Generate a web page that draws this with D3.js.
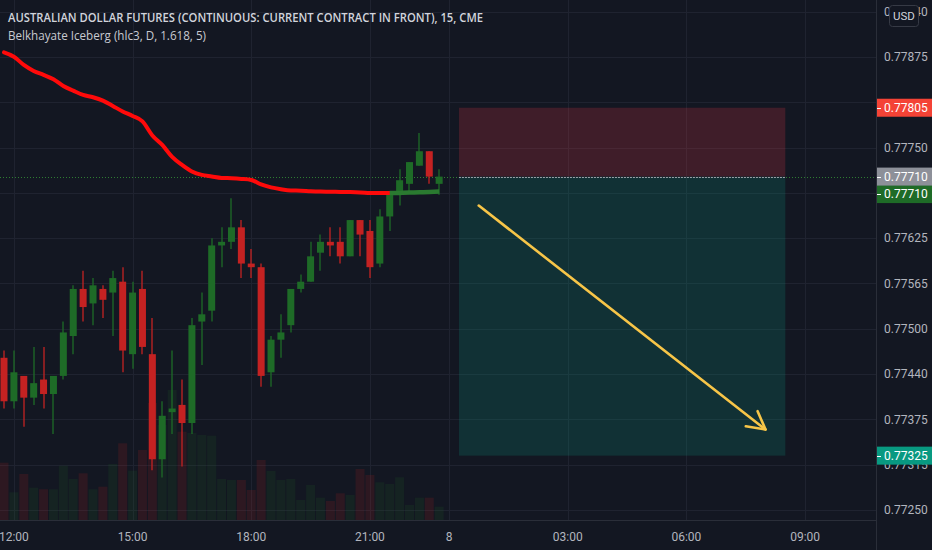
<!DOCTYPE html>
<html><head><meta charset="utf-8">
<script src="https://cdn.jsdelivr.net/npm/d3@7"></script>
<style>html,body{margin:0;padding:0;background:#131722;overflow:hidden}</style>
</head><body><svg id="c" width="932" height="550"></svg>
<script>
// ---- data ----
const opens  = [0.77460,0.77400,0.77435,0.77405,0.77430,0.77410,0.77435,0.77490,0.77555,0.77535,0.77555,0.77550,0.77565,0.77465,0.77555,0.77465,0.77320,0.77385,0.77395,0.77370,0.77510,0.77525,0.77615,0.77620,0.77640,0.77590,0.77585,0.77440,0.77485,0.77505,0.77555,0.77565,0.77605,0.77620,0.77620,0.77600,0.77650,0.77635,0.77590,0.77655,0.77685,0.77700,0.77725,0.77745,0.77700];
const highs  = [0.77470,0.77470,0.77435,0.77475,0.77475,0.77435,0.77510,0.77560,0.77580,0.77570,0.77560,0.77580,0.77585,0.77565,0.77580,0.77515,0.77400,0.77470,0.77430,0.77515,0.77550,0.77625,0.77640,0.77680,0.77650,0.77610,0.77590,0.77490,0.77520,0.77555,0.77575,0.77620,0.77630,0.77640,0.77640,0.77650,0.77650,0.77650,0.77665,0.77690,0.77720,0.77730,0.77770,0.77745,0.77720];
const lows   = [0.77390,0.77390,0.77365,0.77395,0.77390,0.77355,0.77430,0.77465,0.77510,0.77505,0.77515,0.77490,0.77440,0.77445,0.77465,0.77305,0.77295,0.77355,0.77310,0.77355,0.77450,0.77510,0.77585,0.77610,0.77570,0.77570,0.77420,0.77420,0.77460,0.77495,0.77550,0.77565,0.77580,0.77600,0.77590,0.77600,0.77600,0.77570,0.77585,0.77635,0.77670,0.77690,0.77725,0.77700,0.77685];
const closes = [0.77400,0.77440,0.77405,0.77425,0.77410,0.77435,0.77495,0.77555,0.77530,0.77560,0.77540,0.77570,0.77470,0.77550,0.77475,0.77320,0.77380,0.77390,0.77370,0.77505,0.77520,0.77615,0.77620,0.77640,0.77590,0.77585,0.77435,0.77485,0.77495,0.77555,0.77565,0.77600,0.77620,0.77615,0.77600,0.77650,0.77630,0.77585,0.77655,0.77685,0.77705,0.77730,0.77745,0.77710,0.77710];
const volumes = [573,277,460,323,307,307,543,410,467,307,333,560,767,493,700,1170,950,1300,883,870,850,843,410,400,400,300,600,490,400,410,200,350,223,190,267,250,510,450,377,360,427,150,223,223,133];
const iceberg = [0.778814,0.778754,0.778641,0.778558,0.778503,0.778444,0.778351,0.778286,0.778227,0.778195,0.778148,0.778075,0.777999,0.777937,0.777861,0.777668,0.777537,0.777371,0.777261,0.777171,0.777123,0.777102,0.777082,0.777077,0.777068,0.777054,0.776992,0.776951,0.776926,0.776909,0.776906,0.776898,0.776893,0.776891,0.776888,0.776886,0.776882,0.776875,0.776872,0.776872,0.776875,0.776879,0.776883,0.776888,0.776893];
const icebergTurn = 39;
const timeTickIndex  = [1,13,25,37,45,57,69,81];
const timeTickLabels = ["12:00","15:00","18:00","21:00","8","03:00","06:00","09:00"];
const priceTicks = [0.7725,0.773125,0.77375,0.774375,0.775,0.775625,0.77625,0.776875,0.7775,0.778125,0.77875,0.779375];
const priceTickLabels = ["0.77250","0.77315","0.77375","0.77440","0.77500","0.77565","0.77625","0.77690","0.77750","0.77815","0.77875","0.77940"];
const lastPrice = 0.77710;
const position = {entry:0.77710, stop:0.77805, target:0.77325, from:46, to:79};
const arrowPts = [[48,0.7767],[77,0.77361]];
const titleText = "AUSTRALIAN DOLLAR FUTURES (CONTINUOUS: CURRENT CONTRACT IN FRONT), 15, CME";
const subText = "Belkhayate Iceberg (hlc3, D, 1.618, 5)";

// ---- styles ----
const BG="#131722", GRID="#1f2330", AXIS="#2a2e39", TXT="#b2b5be";
const RED="#c42222", GREEN="#1e6b27";
const W=932, H=550, plotR=876, plotB=520;

const svg=d3.select("#c");
svg.append("rect").attr("width",W).attr("height",H).attr("fill",BG);

const x=d3.scaleLinear().domain([0,81]).range([4,805.1]);
const y=d3.scaleLinear().domain([0.7725,0.779375]).range([510,11.7]);
const yv=d3.scaleLinear().domain([0,1300]).range([plotB,390]);
const crisp=v=>Math.round(v)+0.5;

const plot=svg.append("g");
plot.append("defs").append("clipPath").attr("id","clip").append("rect").attr("width",plotR).attr("height",plotB);
const g=plot.append("g").attr("clip-path","url(#clip)");

// grid
g.selectAll(".hg").data(priceTicks).join("line").attr("x1",0).attr("x2",plotR)
  .attr("y1",d=>crisp(y(d))).attr("y2",d=>crisp(y(d))).attr("stroke",GRID).attr("stroke-width",1);
g.selectAll(".vg").data(timeTickIndex).join("line").attr("y1",0).attr("y2",plotB)
  .attr("x1",d=>crisp(x(d))).attr("x2",d=>crisp(x(d))).attr("stroke",GRID).attr("stroke-width",1);

const idx=d3.range(opens.length);
// volume
g.selectAll(".vol").data(idx).join("rect")
  .attr("x",i=>x(i)-4.5).attr("width",9)
  .attr("y",i=>yv(volumes[i])).attr("height",i=>plotB-yv(volumes[i]))
  .attr("fill",i=>closes[i]>=opens[i]?"#1f6b27":"#c42222").attr("fill-opacity",0.15);

// position box
const bx0=x(position.from), bx1=x(position.to);
g.append("rect").attr("x",bx0).attr("width",bx1-bx0).attr("y",y(position.stop)).attr("height",y(position.entry)-y(position.stop))
  .attr("fill","rgba(242,54,69,0.2)");
g.append("rect").attr("x",bx0).attr("width",bx1-bx0).attr("y",y(position.entry)).attr("height",y(position.target)-y(position.entry))
  .attr("fill","rgba(8,153,129,0.2)");

// last price dotted line
g.append("line").attr("x1",0).attr("x2",plotR).attr("y1",crisp(y(lastPrice))).attr("y2",crisp(y(lastPrice)))
  .attr("stroke","#2e7d32").attr("stroke-width",1).attr("stroke-dasharray","1,2");
g.append("line").attr("x1",bx0).attr("x2",bx1).attr("y1",crisp(y(position.entry))).attr("y2",crisp(y(position.entry)))
  .attr("stroke","#9aa0a8").attr("stroke-width",1).attr("stroke-dasharray","2,1");

// candles
const cg=g.append("g");
cg.selectAll(".wick").data(idx).join("line")
  .attr("x1",i=>crisp(x(i))-0.5).attr("x2",i=>crisp(x(i))-0.5)
  .attr("y1",i=>y(highs[i])).attr("y2",i=>y(lows[i]))
  .attr("stroke",i=>closes[i]>=opens[i]?GREEN:RED).attr("stroke-width",1.3);
cg.selectAll(".body").data(idx).join("rect")
  .attr("x",i=>x(i)-3.5).attr("width",7)
  .attr("y",i=>y(Math.max(opens[i],closes[i])))
  .attr("height",i=>Math.max(1,y(Math.min(opens[i],closes[i]))-y(Math.max(opens[i],closes[i]))))
  .attr("fill",i=>closes[i]>=opens[i]?GREEN:RED);

// iceberg line
const line=d3.line().x(d=>x(d[0])).y(d=>y(d[1])).curve(d3.curveMonotoneX);
const icePts=iceberg.map((v,i)=>[i,v]);
g.append("path").attr("d",line(icePts.slice(0,icebergTurn+1))).attr("fill","none")
  .attr("stroke","#ff0a0a").attr("stroke-width",4).attr("stroke-linecap","round").attr("stroke-linejoin","round");
g.append("path").attr("d",line(icePts.slice(icebergTurn))).attr("fill","none")
  .attr("stroke","#2a7a30").attr("stroke-width",4.5).attr("stroke-linecap","butt");

// arrow
const ax0=x(arrowPts[0][0]), ay0=y(arrowPts[0][1]), ax1=x(arrowPts[1][0]), ay1=y(arrowPts[1][1]);
const ang=Math.atan2(ay1-ay0,ax1-ax0);
const hl=20, ha=0.5;
const arrowCol="#f7c548";
g.append("line").attr("x1",ax0).attr("y1",ay0).attr("x2",ax1).attr("y2",ay1)
  .attr("stroke",arrowCol).attr("stroke-width",2.6).attr("stroke-linecap","round");
g.append("path").attr("d",`M${ax1-hl*Math.cos(ang-ha)},${ay1-hl*Math.sin(ang-ha)}L${ax1},${ay1}L${ax1-hl*Math.cos(ang+ha)},${ay1-hl*Math.sin(ang+ha)}`)
  .attr("fill","none").attr("stroke",arrowCol).attr("stroke-width",2.6).attr("stroke-linecap","round").attr("stroke-linejoin","round");

// axes frame
svg.append("line").attr("x1",plotR+0.5).attr("x2",plotR+0.5).attr("y1",0).attr("y2",H).attr("stroke",AXIS);
svg.append("line").attr("x1",0).attr("x2",plotR).attr("y1",plotB+0.5).attr("y2",plotB+0.5).attr("stroke",AXIS);

const FONT="Roboto, 'Noto Sans', sans-serif";
// price labels (those fully covered by price badges in the original are not drawn)
const hiddenTicks=["0.77815","0.77690"];
const shownTicks=priceTicks.filter((d,i)=>!hiddenTicks.includes(priceTickLabels[i]));
svg.selectAll(".pl").data(shownTicks).join("text")
  .attr("x",884).attr("y",d=>y(d)).attr("dy","0.35em")
  .attr("fill",TXT).attr("font-family",FONT).attr("font-size",12)
  .text(d=>priceTickLabels[priceTicks.indexOf(d)]);
// time labels
svg.selectAll(".tl").data(timeTickIndex).join("text")
  .attr("x",d=>x(d)).attr("y",537).attr("dy","0.35em").attr("text-anchor","middle")
  .attr("fill",TXT).attr("font-family",FONT).attr("font-size",12).text((d,i)=>timeTickLabels[i]);

// coloured price badges
function badge(yc,txt,col){
  const gg=svg.append("g");
  gg.append("rect").attr("x",plotR+1).attr("y",yc-9).attr("width",W-plotR).attr("height",18).attr("fill",col);
  gg.append("line").attr("x1",plotR+1).attr("x2",plotR+5).attr("y1",Math.round(yc)+0.5).attr("y2",Math.round(yc)+0.5).attr("stroke","#fff");
  gg.append("text").attr("x",884).attr("y",yc).attr("dy","0.35em").attr("fill","#fff")
    .attr("font-family",FONT).attr("font-size",12).text(txt);
}
const yLast=y(lastPrice);
badge(y(position.stop),"0.77805","#f44336");
badge(Math.max(y(iceberg[iceberg.length-1]),yLast+17.5),"0.77710","#1e6b27");
badge(yLast,"0.77710","#8d9099");
badge(y(position.target),"0.77325","#089981");

// USD button
svg.append("rect").attr("x",889.5).attr("y",5.5).attr("width",29).attr("height",21).attr("rx",3)
  .attr("fill",BG).attr("stroke","#363a45");
svg.append("text").attr("x",904).attr("y",16).attr("dy","0.35em").attr("text-anchor","middle")
  .attr("fill","#d1d4dc").attr("font-family",FONT).attr("font-size",11.5).text("USD");

// titles
svg.append("text").attr("x",8).attr("y",22).attr("fill","#d1d4dc").attr("font-family","'Open Sans', sans-serif")
  .attr("font-size",13).attr("font-weight",600).attr("textLength",475).attr("lengthAdjust","spacingAndGlyphs").text(titleText);
svg.append("text").attr("x",8).attr("y",40).attr("fill","#c8cad1").attr("font-family","'Open Sans', sans-serif")
  .attr("font-size",13).attr("textLength",198).attr("lengthAdjust","spacingAndGlyphs").text(subText);
</script></body></html>
